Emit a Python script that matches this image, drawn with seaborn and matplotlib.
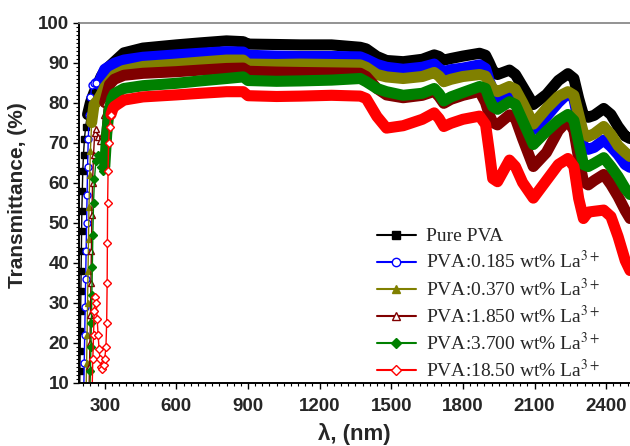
import pandas as pd
import seaborn as sns
import matplotlib.pyplot as plt
from matplotlib.lines import Line2D
from matplotlib.ticker import MultipleLocator

sns.set_theme(style='ticks')
plt.rcParams['font.family'] = ['Liberation Sans', 'DejaVu Sans']
plt.rcParams['mathtext.fontset'] = 'stix'

# shared wavelength grid (nm) for the visible / NIR part
wl_grid = [340, 380, 460, 600, 700, 810, 880, 900, 1020, 1120,
           1250, 1370, 1395, 1440, 1480, 1550, 1630, 1680, 1700, 1720,
           1750, 1800, 1870, 1895, 1910, 1925, 1945, 1995, 2020, 2050,
           2095, 2150, 2200, 2240, 2265, 2285, 2305, 2325, 2350, 2390,
           2420, 2450, 2480, 2500]

# Pure PVA
wl_uv_pure = [195, 196, 197, 198, 199, 200, 201, 202, 203, 204, 206, 208, 211, 215, 220, 228, 240, 255, 270, 285, 300]
t_uv_pure = [8, 13, 18, 23, 28, 33, 38, 43, 48, 53, 58, 63, 67, 71, 74, 77, 80, 82.5, 84.5, 86.5, 88.0]
t_pure = [90.2, 92.4, 93.6, 94.4, 94.9, 95.4, 95.2, 94.6, 94.5, 94.4,
          94.4, 93.8, 93.4, 91.5, 90.5, 90.2, 90.8, 91.9, 91.5, 90.6,
          91.0, 91.6, 92.3, 91.8, 90.0, 88.0, 87.0, 88.1, 87.0, 84.0,
          79.5, 82.0, 85.5, 87.2, 86.0, 81.0, 76.8, 76.3, 76.8, 78.5,
          77.0, 74.0, 71.6, 71.0]

# 0.185 wt%
wl_uv_185 = [212, 214, 216, 218, 220, 222, 224, 226, 228, 231, 235, 240, 247, 255, 265, 275, 285, 300]
t_uv_185 = [8, 15, 22, 29, 36, 43, 50, 57, 64, 71, 77, 81.5, 84.5, 85, 84.8, 84.5, 86.3, 88.3]
t_185 = [89.8, 90.6, 91.3, 91.9, 92.3, 92.7, 92.6, 91.8, 91.6, 91.5,
         91.5, 91.4, 90.8, 89.5, 88.8, 88.3, 88.8, 89.6, 88.5, 87.7,
         88.2, 88.6, 89.4, 88.5, 85.5, 83.0, 81.2, 82.5, 81.5, 78.0,
         73.2, 76.5, 80.0, 82.3, 81.0, 75.0, 69.0, 68.3, 68.8, 70.6,
         69.0, 67.0, 64.5, 63.8]

# 0.370 wt%
wl_uv_370 = [222, 224, 226, 228, 230, 232, 234, 237, 240, 245, 255, 270, 285, 300]
t_uv_370 = [8, 15, 22, 30, 38, 46, 54, 62, 68, 75, 79.5, 80.5, 82, 83.8]
t_370 = [86.8, 88.0, 89.0, 89.6, 90.1, 90.6, 90.6, 89.6, 89.5, 89.6,
         89.5, 89.4, 88.8, 87.0, 86.4, 86.0, 86.5, 87.5, 86.6, 85.2,
         85.8, 86.5, 87.0, 86.6, 85.0, 83.5, 82.7, 84.0, 83.3, 80.0,
         74.6, 78.5, 81.5, 82.7, 81.8, 77.0, 72.3, 71.5, 72.2, 74.0,
         72.0, 69.2, 67.5, 66.5]

# 1.850 wt%
wl_uv_1850 = [234, 236, 238, 240, 242, 244, 246, 249, 253, 258, 265, 272, 280, 288, 295, 300, 320]
t_uv_1850 = [8, 14, 20, 27, 35, 43, 52, 60, 67, 72.5, 73.5, 71.5, 70.5, 72, 77, 80, 84.5]
t_1850 = [85.8, 86.8, 87.3, 87.7, 88.1, 88.5, 88.6, 87.8, 87.6, 87.5,
          87.4, 87.3, 86.5, 83.5, 81.9, 81.2, 81.8, 82.8, 81.5, 79.8,
          80.8, 81.8, 82.8, 80.0, 77.0, 75.0, 74.4, 76.9, 76.0, 71.0,
          64.0, 67.5, 73.0, 75.6, 73.0, 66.0, 60.2, 59.4, 60.5, 62.0,
          59.5, 56.5, 53.0, 51.0]

# 3.700 wt%
wl_uv_3700 = [238, 240, 242, 244, 246, 248, 250, 253, 257, 263, 270, 278, 286, 294, 300, 308, 318, 330]
t_uv_3700 = [8, 13, 19, 25, 32, 39, 47, 55, 61, 65.5, 67, 66, 64, 63, 64, 72, 78, 81]
t_3700 = [82.2, 83.5, 84.2, 84.8, 85.4, 86.0, 86.4, 85.5, 85.3, 85.4,
          85.6, 86.0, 85.2, 83.5, 82.7, 81.8, 82.3, 83.5, 82.2, 80.4,
          81.4, 82.5, 84.0, 83.5, 81.0, 79.0, 78.3, 80.2, 79.5, 75.5,
          69.5, 72.8, 75.5, 77.0, 75.5, 70.0, 64.5, 64.0, 64.8, 66.2,
          64.0, 61.5, 58.5, 57.0]

# 18.50 wt%
wl_uv_1850b = [247, 250, 253, 256, 260, 264, 268, 272, 276, 280, 285, 290, 295, 300, 305, 308, 310, 311, 312, 314, 316, 320, 326, 335]
t_uv_1850b = [8, 16, 22, 28, 31.5, 30, 26, 22, 18.5, 16, 14, 13.5, 14.5, 16, 19, 25, 35, 45, 55, 63, 70, 74, 77, 78.6]
t_1850b = [79.0, 80.6, 81.4, 81.9, 82.3, 82.7, 82.7, 81.7, 81.5, 81.6,
           81.8, 81.6, 81.0, 76.5, 73.6, 74.2, 75.8, 77.4, 76.0, 74.0,
           74.8, 75.8, 76.6, 74.5, 68.0, 61.0, 60.2, 65.6, 64.0, 60.0,
           56.1, 60.5, 64.5, 66.0, 64.0, 56.0, 51.0, 52.6, 52.8, 53.1,
           51.5, 46.5, 40.5, 38.0]

labels = ['Pure PVA',
          'PVA:0.185 wt% La$^{3+}$',
          'PVA:0.370 wt% La$^{3+}$',
          'PVA:1.850 wt% La$^{3+}$',
          'PVA:3.700 wt% La$^{3+}$',
          'PVA:18.50 wt% La$^{3+}$']
colors = ['#000000', '#0000FF', '#808000', '#800000', '#008000', '#FF0000']
markers = ['s', 'o', '^', '^', 'D', 'D']
filled = [True, False, True, False, True, False]
band_start = [228, 265, 245, 300, 300, 326]

series = [(wl_uv_pure, t_uv_pure, t_pure), (wl_uv_185, t_uv_185, t_185),
          (wl_uv_370, t_uv_370, t_370), (wl_uv_1850, t_uv_1850, t_1850),
          (wl_uv_3700, t_uv_3700, t_3700), (wl_uv_1850b, t_uv_1850b, t_1850b)]

fig = plt.figure(figsize=(6.3, 4.46), dpi=100)
ax = fig.add_axes([78.5 / 630, 63.5 / 446, 551.5 / 630, 360 / 446])

handles = []
for (wl_uv, t_uv, t_vis), lab, c, m, f, cut in zip(series, labels, colors, markers, filled, band_start):
    df = pd.DataFrame({'wl': wl_uv + wl_grid, 'T': t_uv + t_vis})
    fc = c if f else 'white'
    ms = 5 if m != 'D' else 4.5
    # dense plateau -> thick band
    sns.lineplot(data=df[df.wl >= cut], x='wl', y='T', ax=ax, color=c, lw=8,
                 estimator=None, sort=False, solid_joinstyle='round', solid_capstyle='round')
    # steep UV edge -> individual markers on a thin line
    sns.lineplot(data=df[df.wl <= cut], x='wl', y='T', ax=ax, color=c, lw=1,
                 estimator=None, sort=False, marker=m, markersize=ms,
                 markerfacecolor=fc, markeredgecolor=c, markeredgewidth=1)
    handles.append(Line2D([], [], color=c, lw=1.5, marker=m, markersize=6 if m != 'D' else 5.5,
                          markerfacecolor=fc, markeredgecolor=c, markeredgewidth=1))

ax.set_xlim(190, 2500)
ax.set_ylim(10, 100)
ax.xaxis.set_major_locator(MultipleLocator(300))
ax.xaxis.set_minor_locator(MultipleLocator(30))
ax.yaxis.set_major_locator(MultipleLocator(10))
ax.yaxis.set_minor_locator(MultipleLocator(1))
ax.tick_params(which='major', direction='out', length=4.5, width=1, color='black',
               labelsize=13.5, pad=2)
ax.tick_params(axis='x', which='major', pad=7)
ax.tick_params(which='minor', direction='out', length=2.5, width=0.8, color='black')
ax.tick_params(top=False, right=False, which='both')
for lbl in ax.get_xticklabels() + ax.get_yticklabels():
    lbl.set_fontweight('bold')

for side in ['left', 'bottom']:
    ax.spines[side].set_color('black')
    ax.spines[side].set_linewidth(1.4)
ax.spines['top'].set_color('#808080')
ax.spines['top'].set_linewidth(1.2)
ax.spines['right'].set_visible(False)

ax.set_xlabel('λ, (nm)', fontsize=16, fontweight='bold')
ax.set_ylabel('Transmittance, (%)', fontsize=15, fontweight='bold')
ax.xaxis.set_label_coords(0.5, -0.112)
ax.yaxis.set_label_coords(-0.093, 0.52)

ax.legend(handles, labels, loc='upper left', bbox_to_anchor=(0.541, 0.43),
          frameon=False, borderpad=0, borderaxespad=0, handlelength=2.0,
          handletextpad=0.55, labelspacing=0.26,
          prop={'family': 'Liberation Serif', 'size': 14})

fig.savefig('out.png', dpi=100)
